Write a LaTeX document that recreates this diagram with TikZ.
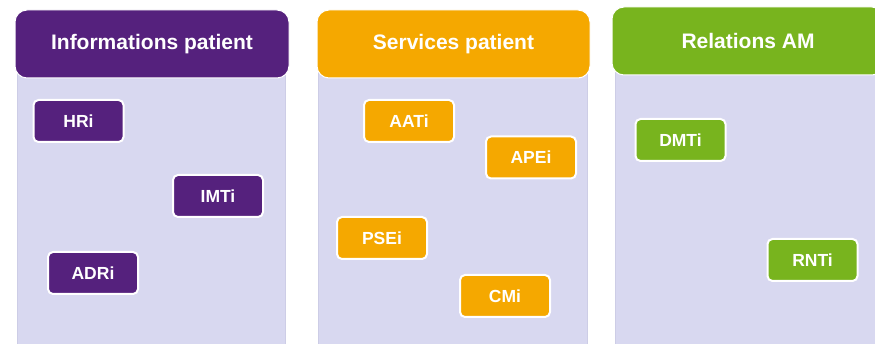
\documentclass[tikz,border=0pt]{standalone}
\usepackage{fontspec}
\setmainfont{Liberation Sans}
\definecolor{cpurple}{RGB}{85,33,125}
\definecolor{corange}{RGB}{245,168,0}
\definecolor{cgreen}{RGB}{120,180,30}
\definecolor{cbody}{RGB}{216,216,240}
\definecolor{cbodyedge}{RGB}{205,205,230}
\tikzset{
  body/.style={draw=cbodyedge, line width=0.8pt, fill=cbody, inner sep=0pt, anchor=north west},
  header/.style={fill=#1, draw=white, line width=1pt, rounded corners=12pt, text=white,
     font=\bfseries\fontsize{21}{24}\selectfont, minimum height=68pt, inner sep=0pt},
  item/.style={fill=#1, draw=white, line width=2pt, rounded corners=5pt, text=white,
     font=\bfseries\fontsize{17.5}{20}\selectfont, minimum width=90pt, minimum height=42pt, inner sep=0pt}
}
\begin{document}
\begin{tikzpicture}[x=1pt,y=-1pt]
\useasboundingbox (0,0) rectangle (875,344);
\clip (0,0) rectangle (875,344);
% bodies
\node[body, minimum width=268pt, minimum height=276pt] (b1) at (17,72) {};
\node[body, minimum width=269pt, minimum height=276pt] (b2) at (318,72) {};
\node[body, minimum width=265pt, minimum height=278pt] (b3) at (615,70) {};
% headers
\node[header=cpurple, minimum width=274pt] (h1) at (152,44) {Informations patient};
\node[header=corange, minimum width=273pt] (h2) at (453.5,44) {Services patient};
\node[header=cgreen, minimum width=272pt] (h3) at (748,41) {Relations AM};
% items
\node[item=cpurple] (hri) at (78.5,121) {HRi};
\node[item=cpurple] (imti) at (218,196) {IMTi};
\node[item=cpurple] (adri) at (93,273) {ADRi};
\node[item=corange] (aati) at (409,121) {AATi};
\node[item=corange] (apei) at (531,157.5) {APEi};
\node[item=corange] (psei) at (382,238) {PSEi};
\node[item=corange] (cmi) at (505,296) {CMi};
\node[item=cgreen] (dmti) at (680.5,140) {DMTi};
\node[item=cgreen] (rnti) at (812.5,260) {RNTi};
\end{tikzpicture}
\end{document}
